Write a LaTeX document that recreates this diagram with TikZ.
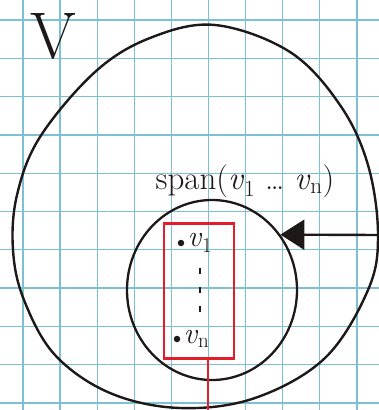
\documentclass[tikz,border=0pt]{standalone}
\usetikzlibrary{arrows.meta,positioning,shapes.geometric}
\definecolor{gridblue}{RGB}{125,192,208}
\definecolor{ink}{RGB}{30,24,24}
\definecolor{redpen}{RGB}{226,30,45}
\newcommand{\vsub}[1]{\textit{v}\textsubscript{#1}}

\begin{document}
\begin{tikzpicture}[
x=1pt, y=-1pt,
node distance=3pt,
gridline/.style={draw=gridblue, line width=1.3pt},
curve/.style={draw=ink, line width=2.4pt},
ring/.style={
ellipse,
draw=ink,
line width=2.3pt,
minimum width=170pt,
minimum height=180pt,
inner sep=0pt
},
box/.style={
draw=redpen,
line width=2.3pt,
minimum width=70pt,
minimum height=135pt,
inner sep=0pt
},
dot/.style={circle, fill=ink, inner sep=0pt, minimum size=6.5pt},
vec/.style={font=\fontsize{30}{30}\selectfont, text=ink, inner sep=0pt},
line/.style={-{Triangle[length=24pt,width=30pt]}, line width=2.4pt, draw=ink},
redline/.style={draw=redpen, line width=2.6pt}
]

\useasboundingbox (0,0) rectangle (379,410);
\fill[white] (0,0) rectangle (379,410);

% squared paper
\begin{scope}
\clip (0,0) rectangle (379,410);
\foreach \gx in {0,...,9}
  \draw[gridline] ({23+37.1*\gx},0) -- ({23+37.1*\gx},410);
\foreach \gy in {0,...,10}
  \draw[gridline] (0,{20+38.3*\gy}) -- (379,{20+38.3*\gy});
\end{scope}

% the space V
\draw[curve] plot[smooth cycle, tension=0.6] coordinates {
(215,25) (290,52) (340,105) (368,165) (378,235) (368,290)
(325,358) (255,398) (180,408) (110,393) (55,355) (24,300)
(13,250) (17,195) (40,137) (95,72) (150,38)};
\node[font=\fontsize{66}{66}\selectfont, text=ink, inner sep=0pt] (vlabel) at (53,36) {V};

% the span
\node[ring] (span) at (212,290) {};
\node[vec, font=\fontsize{33}{33}\selectfont, above=1pt of span.north, xshift=33pt] (spanlabel)
{span(\vsub{1} \dots{} \vsub{n})};

% the vectors
\node[box] (basis) at (199,291) {};
\node[dot] (p1) at (181,243) {};
\node[vec, right=3pt of p1] (v1) {\vsub{1}};
\node[dot] (pn) at (177,339) {};
\node[vec, right=3pt of pn] (vn) {\vsub{n}};
\foreach \dy in {271,290,309}
  \draw[ink, line width=1.8pt] (200,\dy-3) -- (200,\dy+3);

% arrows
\coordinate (vedge) at (379,235);
\draw[line] (vedge) -- (span.39);
\coordinate (bottom) at (208,410);
\draw[redline] (basis.south -| bottom) -- (bottom);

\end{tikzpicture}
\end{document}
